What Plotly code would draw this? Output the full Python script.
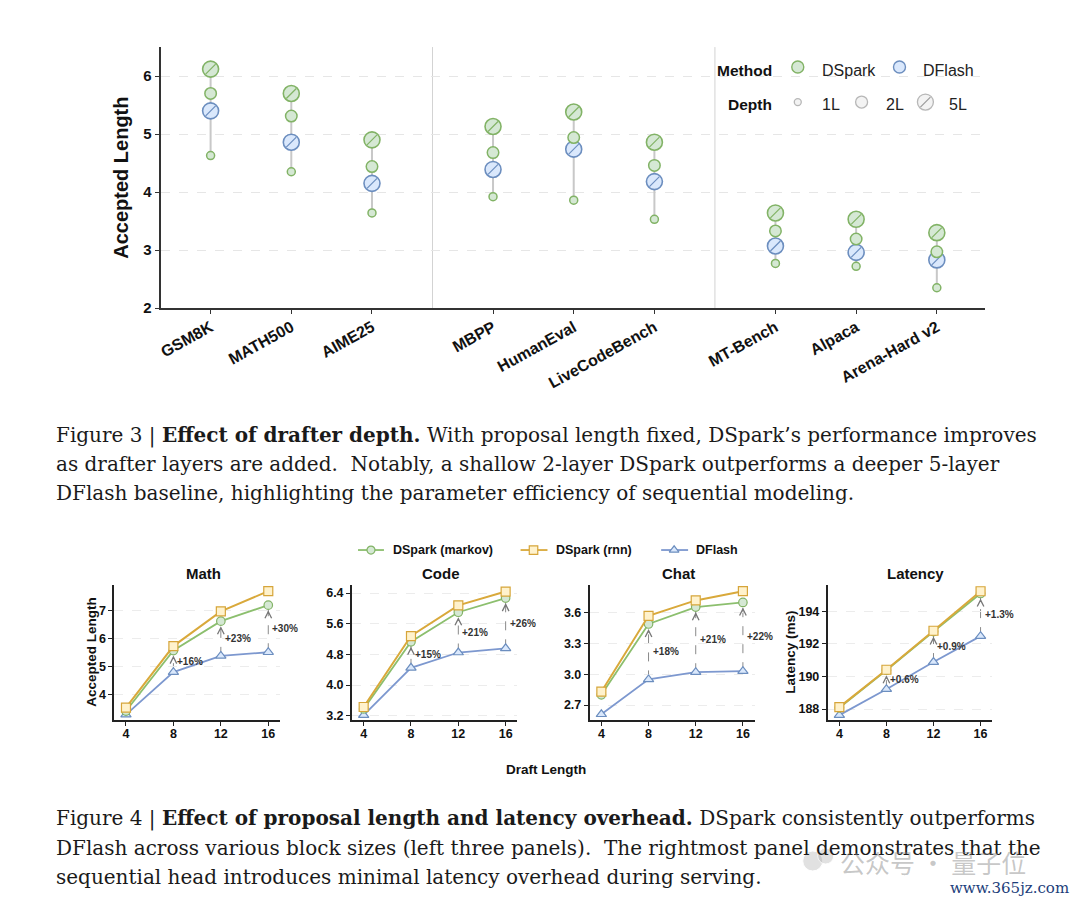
import plotly.graph_objects as go

PAGE_W, PAGE_H = 1080, 905
OFF = 8  # browser body margin
W, H = PAGE_W - 2 * OFF, PAGE_H - 2 * OFF
KY = 1.009  # small vertical correction of the page mapping

# ---------------- Figure 3 data ----------------
benchmarks = ["GSM8K", "MATH500", "AIME25", "MBPP", "HumanEval", "LiveCodeBench",
              "MT-Bench", "Alpaca", "Arena-Hard v2"]
bench_pos = [0, 1, 2, 3.5, 4.5, 5.5, 7, 8, 9]
dspark_1L = [4.63, 4.35, 3.64, 3.92, 3.86, 3.53, 2.77, 2.72, 2.35]
dspark_2L = [5.70, 5.31, 4.44, 4.68, 4.94, 4.46, 3.33, 3.19, 2.97]
dspark_5L = [6.12, 5.70, 4.90, 5.13, 5.38, 4.86, 3.64, 3.53, 3.30]
dflash_5L = [5.40, 4.86, 4.15, 4.39, 4.74, 4.18, 3.07, 2.96, 2.83]
group_separators = [2.75, 6.25]
fig3_yticks = [2, 3, 4, 5, 6]

# ---------------- Figure 4 data ----------------
draft_lengths = [4, 8, 12, 16]
panel_titles = ["Math", "Code", "Chat", "Latency"]

math_markov = [3.42, 5.58, 6.63, 7.20]
math_rnn = [3.54, 5.74, 6.98, 7.70]
math_dflash = [3.29, 4.81, 5.39, 5.52]
math_gain = ["+16%", "+23%", "+30%"]
math_yticks = [4, 5, 6, 7]

code_markov = [3.38, 5.13, 5.90, 6.27]
code_rnn = [3.43, 5.28, 6.08, 6.44]
code_dflash = [3.22, 4.45, 4.85, 4.96]
code_gain = ["+15%", "+21%", "+26%"]
code_yticks = [3.2, 4.0, 4.8, 5.6, 6.4]

chat_markov = [2.80, 3.49, 3.655, 3.70]
chat_rnn = [2.83, 3.57, 3.72, 3.81]
chat_dflash = [2.61, 2.95, 3.02, 3.03]
chat_gain = ["+18%", "+21%", "+22%"]
chat_yticks = [2.7, 3.0, 3.3, 3.6]

lat_markov = [188.08, 190.38, 192.75, 195.08]
lat_rnn = [188.12, 190.41, 192.80, 195.22]
lat_dflash = [187.63, 189.22, 190.88, 192.47]
lat_gain = ["+0.6%", "+0.9%", "+1.3%"]
lat_yticks = [188, 190, 192, 194]

# ---------------- styling ----------------
SANS = "Liberation Sans, Arial, sans-serif"
SERIF = "DejaVu Serif, serif"
G_FILL, G_EDGE, G_LINE = "#d5e8d4", "#82b366", "#8cbf6e"
B_FILL, B_EDGE, B_LINE = "#dae8fc", "#6c8ebf", "#7d98cf"
Y_FILL, Y_EDGE, Y_LINE = "#fff2cc", "#d6a53a", "#d9a93b"


def px_x(p):
    return (p - OFF) / W


def px_y(p):
    return 1 - (p * KY - OFF) / H


fig = go.Figure()
annotations = []
shapes = []


def note(text, x, y, size, family=SANS, color="#111", angle=0, xa="center", ya="middle"):
    annotations.append(dict(text=text, xref="paper", yref="paper", x=px_x(x), y=px_y(y),
                            xanchor=xa, yanchor=ya, textangle=angle, showarrow=False,
                            font=dict(family=family, size=size, color=color)))


# ================= Figure 3 =================
rx, ry = [], []
for i, c in enumerate(bench_pos):
    vals = [dspark_1L[i], dspark_2L[i], dspark_5L[i], dflash_5L[i]]
    rx += [c, c, None]
    ry += [min(vals), max(vals), None]
fig.add_trace(go.Scatter(x=rx, y=ry, mode="lines", line=dict(color="#c8c8c8", width=2),
                         hoverinfo="skip", showlegend=False, xaxis="x", yaxis="y"))

fig.add_trace(go.Scatter(x=bench_pos, y=dflash_5L, mode="markers", showlegend=False,
                         marker=dict(size=16, color=B_FILL, line=dict(color=B_EDGE, width=1.6)),
                         xaxis="x", yaxis="y"))
fig.add_trace(go.Scatter(x=bench_pos, y=dflash_5L, mode="markers", showlegend=False,
                         marker=dict(size=10, symbol="line-ne", line=dict(color=B_EDGE, width=1.2)),
                         xaxis="x", yaxis="y"))
fig.add_trace(go.Scatter(x=bench_pos, y=dspark_1L, mode="markers", showlegend=False,
                         marker=dict(size=8, color=G_FILL, line=dict(color=G_EDGE, width=1.5)),
                         xaxis="x", yaxis="y"))
fig.add_trace(go.Scatter(x=bench_pos, y=dspark_2L, mode="markers", showlegend=False,
                         marker=dict(size=11.5, color=G_FILL, line=dict(color=G_EDGE, width=1.5)),
                         xaxis="x", yaxis="y"))
fig.add_trace(go.Scatter(x=bench_pos, y=dspark_5L, mode="markers", showlegend=False,
                         marker=dict(size=16, color=G_FILL, line=dict(color=G_EDGE, width=1.6)),
                         xaxis="x", yaxis="y"))
fig.add_trace(go.Scatter(x=bench_pos, y=dspark_5L, mode="markers", showlegend=False,
                         marker=dict(size=10, symbol="line-ne", line=dict(color=G_EDGE, width=1.2)),
                         xaxis="x", yaxis="y"))

for s in group_separators:
    shapes.append(dict(type="line", xref="x", yref="y domain", x0=s, x1=s, y0=0, y1=1,
                       line=dict(color="#d3d3d3", width=1), layer="below"))

note("<b>Accepted Length</b>", 118, 178, 20, angle=-90)

# Figure 3 legend (pixel overlay axis x6/y6)
lg_font = dict(family=SANS, size=16, color="#222")
annotations += [
    dict(text="<b>Method</b>", xref="x6", yref="y6", x=773, y=70, xanchor="right", yanchor="middle",
         showarrow=False, font=dict(family=SANS, size=15.5, color="#111")),
    dict(text="<b>Depth</b>", xref="x6", yref="y6", x=773, y=104, xanchor="right", yanchor="middle",
         showarrow=False, font=dict(family=SANS, size=15.5, color="#111")),
    dict(text="DSpark", xref="x6", yref="y6", x=819, y=70, xanchor="left", yanchor="middle",
         showarrow=False, font=lg_font),
    dict(text="DFlash", xref="x6", yref="y6", x=921, y=70, xanchor="left", yanchor="middle",
         showarrow=False, font=lg_font),
    dict(text="1L", xref="x6", yref="y6", x=819, y=104, xanchor="left", yanchor="middle",
         showarrow=False, font=lg_font),
    dict(text="2L", xref="x6", yref="y6", x=883, y=104, xanchor="left", yanchor="middle",
         showarrow=False, font=lg_font),
    dict(text="5L", xref="x6", yref="y6", x=947, y=104, xanchor="left", yanchor="middle",
         showarrow=False, font=lg_font),
]
fig.add_trace(go.Scatter(x=[797, 899], y=[67, 67], mode="markers", showlegend=False, hoverinfo="skip",
                         marker=dict(size=12, color=[G_FILL, B_FILL],
                                     line=dict(color=[G_EDGE, B_EDGE], width=1.4)),
                         xaxis="x6", yaxis="y6"))
fig.add_trace(go.Scatter(x=[797, 861, 925], y=[102, 102, 102], mode="markers", showlegend=False,
                         hoverinfo="skip",
                         marker=dict(size=[7, 12, 16], color="#eeeeee", line=dict(color="#999999", width=1.3)),
                         xaxis="x6", yaxis="y6"))
fig.add_trace(go.Scatter(x=[925], y=[102], mode="markers", showlegend=False, hoverinfo="skip",
                         marker=dict(size=10, symbol="line-ne", line=dict(color="#999999", width=1.2)),
                         xaxis="x6", yaxis="y6"))

# ================= Figure 4 =================
panel_data = [
    (math_markov, math_rnn, math_dflash, math_gain, math_yticks, [3.1, 7.92], "d", [111.4, 277.9]),
    (code_markov, code_rnn, code_dflash, code_gain, code_yticks, [3.09, 6.61], ".1f", [349.8, 515.9]),
    (chat_markov, chat_rnn, chat_dflash, chat_gain, chat_yticks, [2.554, 3.87], ".1f", [588.2, 753.8]),
    (lat_markov, lat_rnn, lat_dflash, lat_gain, lat_yticks, [187.33, 195.6], "d", [826.9, 992.1]),
]
PANEL_TOP, PANEL_BOT = 585, 720

layout_axes = {}
for k, (mk, rn, df, gain, yt, yr, fmt, dom) in enumerate(panel_data):
    n = k + 2
    xa, ya = f"x{n}", f"y{n}"
    fig.add_trace(go.Scatter(x=draft_lengths, y=df, mode="lines+markers", showlegend=False,
                             line=dict(color=B_LINE, width=1.8),
                             marker=dict(symbol="triangle-up", size=9, color=B_FILL,
                                         line=dict(color=B_EDGE, width=1.2)),
                             xaxis=xa, yaxis=ya))
    fig.add_trace(go.Scatter(x=draft_lengths, y=mk, mode="lines+markers", showlegend=False,
                             line=dict(color=G_LINE, width=1.8),
                             marker=dict(symbol="circle", size=8.5, color=G_FILL,
                                         line=dict(color=G_EDGE, width=1.2)),
                             xaxis=xa, yaxis=ya))
    fig.add_trace(go.Scatter(x=draft_lengths, y=rn, mode="lines+markers", showlegend=False,
                             line=dict(color=Y_LINE, width=2),
                             marker=dict(symbol="square", size=9, color=Y_FILL,
                                         line=dict(color=Y_EDGE, width=1.2)),
                             xaxis=xa, yaxis=ya))
    for j in range(1, 4):
        xv, lo, hi = draft_lengths[j], df[j], mk[j]
        shapes.append(dict(type="line", xref=xa, yref=ya, x0=xv, x1=xv, y0=lo, y1=hi,
                           line=dict(color="#8a8a8a", width=1, dash="dash"), layer="below"))
        annotations.append(dict(text="", xref=xa, yref=ya, x=xv, y=hi, ax=0, ay=10,
                                showarrow=True, arrowhead=5, arrowsize=1.3, arrowwidth=1,
                                arrowcolor="#777777", standoff=5))
        annotations.append(dict(text="<b>" + gain[j - 1] + "</b>", xref=xa, yref=ya, x=xv,
                                y=(lo + hi) / 2, xanchor="left", yanchor="middle", xshift=2,
                                showarrow=False, font=dict(family=SANS, size=10, color="#333")))
    layout_axes["xaxis" + str(n)] = dict(
        domain=[px_x(dom[0]), px_x(dom[1])], range=[3.0, 17.0], anchor=ya,
        tickvals=draft_lengths, ticks="outside", ticklen=4, tickcolor="#222",
        ticklabelstandoff=-3,
        showline=True, linecolor="#222", linewidth=1.5, showgrid=False, zeroline=False,
        tickfont=dict(family=SANS, size=12.5, color="#111", weight="bold"))
    layout_axes["yaxis" + str(n)] = dict(
        domain=[px_y(PANEL_BOT), px_y(PANEL_TOP)], range=yr, anchor=xa,
        tickvals=yt, tickformat=fmt, ticks="outside", ticklen=4, tickcolor="#222",
        showline=True, linecolor="#222", linewidth=1.5, showgrid=True, gridcolor="#ececec",
        griddash="dash", gridwidth=1, zeroline=False,
        tickfont=dict(family=SANS, size=12.5, color="#111", weight="bold"))
    note("<b>" + panel_titles[k] + "</b>", (dom[0] + dom[1]) / 2 + 6, 573, 15)

note("<b>Accepted Length</b>", 88, 652, 13.5, angle=-90)
note("<b>Latency (ms)</b>", 789, 652, 13.5, angle=-90)
note("<b>Draft Length</b>", 545, 769, 13.5)

# Figure 4 legend
leg_items = [
    (356, 382, 369, "circle", G_LINE, G_FILL, G_EDGE, 8, "DSpark (markov)", 389),
    (519, 546, 532, "square", Y_LINE, Y_FILL, Y_EDGE, 8.5, "DSpark (rnn)", 553),
    (660, 687, 673, "triangle-up", B_LINE, B_FILL, B_EDGE, 8.5, "DFlash", 693),
]
for x0, x1, xm, sym, lc, fc, ec, sz, label, tx in leg_items:
    fig.add_trace(go.Scatter(x=[x0, x1], y=[550, 550], mode="lines", showlegend=False, hoverinfo="skip",
                             line=dict(color=lc, width=1.8), xaxis="x6", yaxis="y6"))
    fig.add_trace(go.Scatter(x=[xm], y=[550], mode="markers", showlegend=False, hoverinfo="skip",
                             marker=dict(symbol=sym, size=sz, color=fc, line=dict(color=ec, width=1.2)),
                             xaxis="x6", yaxis="y6"))
    annotations.append(dict(text="<b>" + label + "</b>", xref="x6", yref="y6", x=tx, y=550,
                            xanchor="left", yanchor="middle", showarrow=False,
                            font=dict(family=SANS, size=12.5, color="#111")))

# ================= captions =================
cap3 = [
    "Figure 3 | <b>Effect of drafter depth.</b> With proposal length fixed, DSpark’s performance improves",
    "as drafter layers are added.  Notably, a shallow 2-layer DSpark outperforms a deeper 5-layer",
    "DFlash baseline, highlighting the parameter efficiency of sequential modeling.",
]
cap4 = [
    "Figure 4 | <b>Effect of proposal length and latency overhead.</b> DSpark consistently outperforms",
    "DFlash across various block sizes (left three panels).  The rightmost panel demonstrates that the",
    "sequential head introduces minimal latency overhead during serving.",
]
for line, yy in zip(cap3, [435, 464, 493]):
    note(line, 51, yy, 20, family=SERIF, color="#1a1a1a", xa="left")
for line, yy in zip(cap4, [818, 848, 877]):
    note(line, 51, yy, 20, family=SERIF, color="#1a1a1a", xa="left")

# watermark
fig.add_trace(go.Scatter(x=[812, 825], y=[861, 856], mode="markers", showlegend=False, hoverinfo="skip",
                         marker=dict(size=[20, 16], color="rgba(150,150,150,0.40)"),
                         xaxis="x6", yaxis="y6"))
note("公众号 · 量子位", 837, 862, 25, family="Noto Sans CJK SC",
     color="rgba(130,130,130,0.45)", xa="left")
note("www.365jz.com", 1071, 888, 15, family=SERIF, color="#1c3d7a", xa="right")

fig.update_layout(
    width=W, height=H, margin=dict(l=0, r=0, t=0, b=0),
    paper_bgcolor="white", plot_bgcolor="rgba(0,0,0,0)", showlegend=False,
    xaxis=dict(domain=[px_x(158), px_x(985)], range=[-0.62, 9.6], anchor="y",
               tickvals=bench_pos, ticktext=benchmarks, tickangle=-29,
               ticks="outside", ticklen=4, tickcolor="#333", showline=True, linecolor="#333",
               linewidth=2, showgrid=False, zeroline=False, ticklabelstandoff=-2,
               tickfont=dict(family=SANS, size=16, color="#111", weight="bold")),
    yaxis=dict(domain=[px_y(308), px_y(47)], range=[2, 6.5], anchor="x",
               tickvals=fig3_yticks, ticks="outside", ticklen=4, tickcolor="#333",
               showline=True, linecolor="#333", linewidth=2, showgrid=True,
               gridcolor="#e6e6e6", griddash="dash", zeroline=False,
               tickfont=dict(family=SANS, size=15, color="#111", weight="bold")),
    xaxis6=dict(domain=[0, 1], range=[OFF, PAGE_W - OFF], visible=False, anchor="y6", fixedrange=True),
    yaxis6=dict(domain=[0, 1], range=[(H + OFF) / KY, OFF / KY], visible=False, anchor="x6",
                fixedrange=True),
    annotations=annotations, shapes=shapes,
    **layout_axes,
)

fig.write_html("out.html")
